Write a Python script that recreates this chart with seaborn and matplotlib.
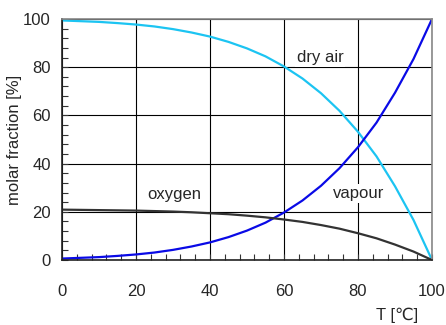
import matplotlib
matplotlib.use("Agg")
import matplotlib.pyplot as plt
import seaborn as sns
import pandas as pd
from matplotlib.ticker import MultipleLocator

temperature = [0, 5, 10, 15, 20, 25, 30, 35, 40, 45, 50, 55, 60, 65, 70, 75, 80, 85, 90, 95, 100]
vapour = [0.6, 0.9, 1.2, 1.7, 2.3, 3.1, 4.2, 5.6, 7.3, 9.5, 12.2, 15.5, 19.7, 24.7, 30.8, 38.1, 46.8, 57.0, 69.4, 83.4, 100.0]
dry_air = [99.4, 99.1, 98.8, 98.3, 97.7, 96.9, 95.8, 94.4, 92.7, 90.5, 87.8, 84.5, 80.3, 75.3, 69.2, 61.9, 53.2, 43.0, 30.6, 16.6, 0.0]
oxygen = [20.9, 20.8, 20.7, 20.6, 20.5, 20.3, 20.1, 19.8, 19.4, 19.0, 18.4, 17.7, 16.8, 15.8, 14.5, 13.0, 11.1, 9.0, 6.4, 3.5, 0.0]

sns.set_style("white")
plt.rcParams['font.family'] = ['Liberation Sans', 'DejaVu Sans']

df = pd.DataFrame({"T": temperature, "vapour": vapour, "dry air": dry_air, "oxygen": oxygen})

fig = plt.figure(figsize=(4.46, 3.25), dpi=100)
ax = fig.add_axes([62/446, 65/325, 370/446, 241/325])

sns.lineplot(data=df, x="T", y="dry air", color="#1cc4f2", lw=1.6, ax=ax)
sns.lineplot(data=df, x="T", y="vapour", color="#0a0ae6", lw=1.6, ax=ax)
sns.lineplot(data=df, x="T", y="oxygen", color="#333333", lw=1.6, ax=ax)

ax.set_xlim(0, 100)
ax.set_ylim(0, 100)
ax.xaxis.set_major_locator(MultipleLocator(20))
ax.yaxis.set_major_locator(MultipleLocator(20))
ax.xaxis.set_minor_locator(MultipleLocator(4))
ax.yaxis.set_minor_locator(MultipleLocator(4))
ax.grid(True, which="major", color="black", lw=0.8)
ax.tick_params(which="both", direction="in", length=4, width=0.8, color="#333333",
               top=False, right=False, bottom=True, left=True)
ax.tick_params(axis="y", which="major", labelsize=12, pad=8)
ax.tick_params(axis="x", which="major", labelsize=12, pad=17)
for s in ax.spines.values():
    s.set_color("#888888")
    s.set_linewidth(1.2)
ax.spines["left"].set_color("#222222")
ax.spines["bottom"].set_color("#222222")

ax.set_xlabel("")
ax.set_ylabel("molar fraction [%]", fontsize=12, labelpad=1)
fig.text(397/446, 1 - 315/325, "T [℃]", fontsize=12, ha="center", va="center")

bbox = dict(facecolor="white", edgecolor="none", pad=1.5)
ax.text(69.7, 84, "dry air", fontsize=12, ha="center", va="center", bbox=bbox)
ax.text(80.3, 27.4, "vapour", fontsize=12, ha="center", va="center", bbox=bbox)
ax.text(30.3, 27.0, "oxygen", fontsize=12, ha="center", va="center", bbox=bbox)

fig.savefig("out.png", dpi=100)
